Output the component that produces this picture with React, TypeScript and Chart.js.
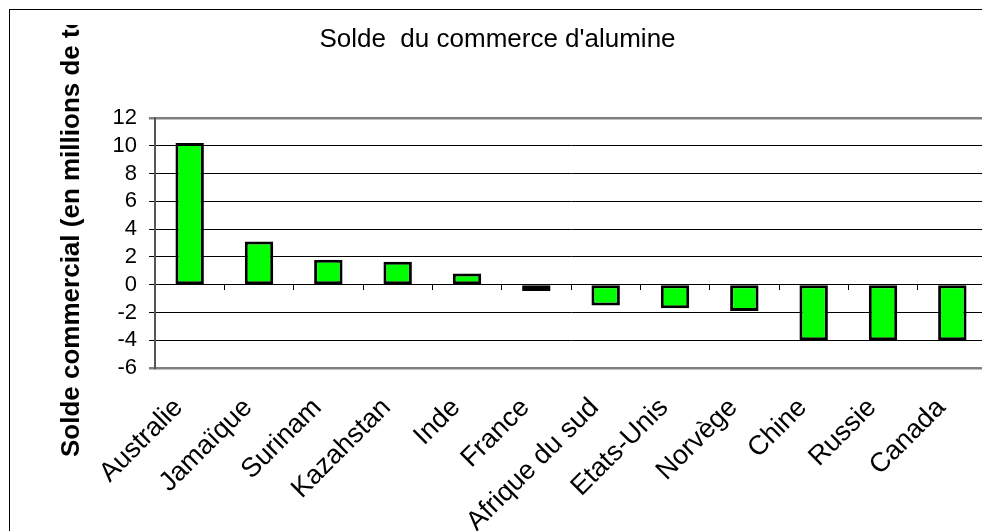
import React, { useEffect, useRef } from "react";
import { Chart, registerables } from "chart.js";

Chart.register(...registerables);

const categories = [
  "Australie",
  "Jamaïque",
  "Surinam",
  "Kazahstan",
  "Inde",
  "France",
  "Afrique du sud",
  "Etats-Unis",
  "Norvège",
  "Chine",
  "Russie",
  "Canada",
];
const balance = [10.2, 3.1, 1.8, 1.65, 0.8, -0.45, -1.5, -1.7, -1.9, -4, -4, -4];
const yMin = -6;
const yMax = 12;
const yStep = 2;
const chartTitle = "Solde  du commerce d'alumine";
const yTitle = "Solde commercial (en millions de tonnes)";

const FONT = "'Liberation Sans', Arial, sans-serif";
const W = 1010;
const H = 560;

const framePlugin = {
  id: "frame",
  afterDraw(chart: any) {
    const ctx = chart.ctx;
    ctx.save();
    ctx.strokeStyle = "#000";
    ctx.lineWidth = 1;
    ctx.strokeRect(1.5, 1.5, W - 3, H - 3);
    ctx.beginPath();
    ctx.rect(0, 17, 140, H);
    ctx.clip();
    ctx.translate(71, 449);
    ctx.rotate(-Math.PI / 2);
    ctx.font = `bold 26px ${FONT}`;
    ctx.fillStyle = "#000";
    ctx.textAlign = "left";
    ctx.textBaseline = "alphabetic";
    ctx.fillText(yTitle, 0, 0);
    ctx.restore();
  },
};

export default function App() {
  const ref = useRef<HTMLCanvasElement | null>(null);
  useEffect(() => {
    if (!ref.current) return;
    const chart = new Chart(ref.current, {
      type: "bar",
      data: {
        labels: categories,
        datasets: [
          {
            data: balance,
            backgroundColor: "#00FF00",
            borderColor: "#000",
            borderWidth: 3,
            borderSkipped: false,
            barPercentage: 0.41,
            categoryPercentage: 1,
            xAxisID: "x",
            yAxisID: "y",
          },
        ],
      },
      options: {
        animation: false,
        responsive: false,
        devicePixelRatio: 1,
        layout: { padding: { left: 0, top: 0, right: 31, bottom: 0 } },
        plugins: {
          legend: { display: false },
          tooltip: { enabled: false },
          title: {
            display: true,
            text: chartTitle,
            color: "#000",
            font: { family: FONT, size: 26, weight: "normal" },
            padding: { top: 16.4, bottom: 62.4 },
          },
        },
        scales: {
          x: {
            type: "category",
            position: "bottom",
            offset: true,
            grid: { display: false, drawTicks: false },
            border: { display: false },
            ticks: {
              color: "#000",
              font: { family: FONT, size: 27 },
              maxRotation: 45,
              minRotation: 45,
              autoSkip: false,
              padding: 24,
              labelOffset: -11,
            },
            afterFit(scale: any) {
              scale.height = 200;
            },
          },
          x2: {
            type: "category",
            labels: categories,
            position: { y: 0 },
            offset: true,
            grid: {
              offset: true,
              drawOnChartArea: false,
              drawTicks: true,
              tickLength: 5,
              color: "#000",
            },
            border: { display: true, color: "#000", width: 1 },
            ticks: { display: false },
            afterFit(scale: any) {
              scale.height = 0;
            },
          },
          y: {
            type: "linear",
            min: yMin,
            max: yMax,
            ticks: {
              stepSize: yStep,
              autoSkip: false,
              color: "#000",
              font: { family: FONT, size: 22 },
              padding: 12,
            },
            grid: {
              tickLength: 6,
              color: (c: any) =>
                c.tick && (c.tick.value === yMax || c.tick.value === yMin) ? "#808080" : "#000",
              lineWidth: (c: any) =>
                c.tick && (c.tick.value === yMax || c.tick.value === yMin) ? 2.5 : 1,
            },
            border: { display: true, color: "#555", width: 2 },
            afterFit(scale: any) {
              scale.width = 147;
            },
          },
        },
      },
      plugins: [framePlugin],
    });
    return () => chart.destroy();
  }, []);
  return (
    <div
      style={{
        position: "fixed",
        left: 8,
        top: 8,
        width: 974,
        height: 523,
        overflow: "hidden",
      }}
    >
      <canvas ref={ref} width={W} height={H} style={{ display: "block", width: W, height: H }} />
    </div>
  );
}
